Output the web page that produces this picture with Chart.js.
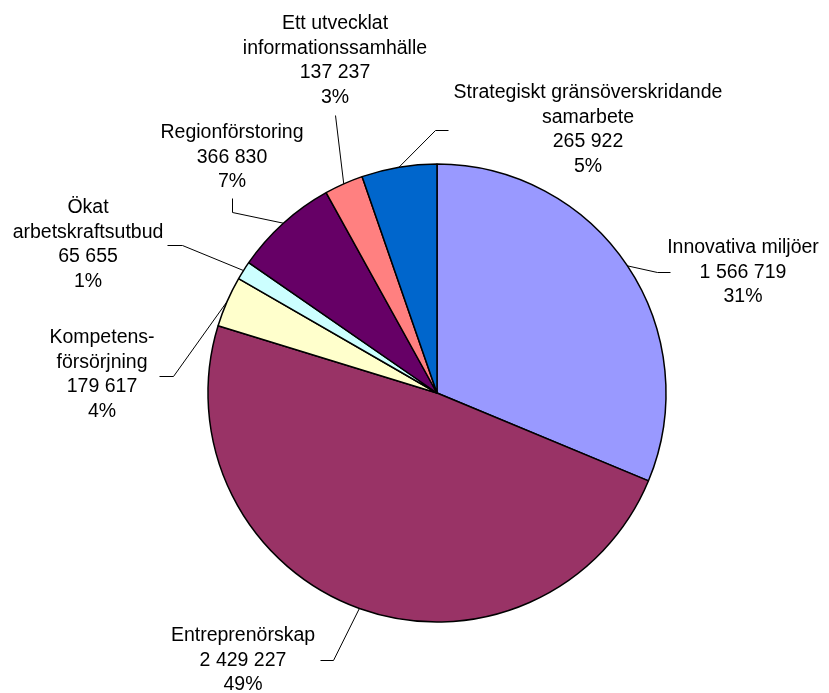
<!DOCTYPE html>
<html>
<head>
<meta charset="utf-8">
<script src="https://cdn.jsdelivr.net/npm/chart.js@4/dist/chart.umd.min.js"></script>
<style>
  html, body { margin: 0; padding: 0; background: #fff; }
  #wrap { width: 829px; height: 693px; position: relative; }
</style>
</head>
<body>
<div id="wrap"><canvas id="pie"></canvas></div>
<script>
// === Data ===
const categories = [
    "Innovativa miljöer",
    "Entreprenörskap",
    "Kompetensförsörjning",
    "Ökat arbetskraftsutbud",
    "Regionförstoring",
    "Ett utvecklat informationssamhälle",
    "Strategiskt gränsöverskridande samarbete"
];
const amounts = [1566719, 2429227, 179617, 65655, 366830, 137237, 265922];
const percentLabels = ["31%", "49%", "4%", "1%", "7%", "3%", "5%"];
// how each category name is wrapped in its label
const nameLines = [
    ["Innovativa miljöer"],
    ["Entreprenörskap"],
    ["Kompetens-", "försörjning"],
    ["Ökat", "arbetskraftsutbud"],
    ["Regionförstoring"],
    ["Ett utvecklat", "informationssamhälle"],
    ["Strategiskt gränsöverskridande", "samarbete"]
];
const sliceColors = ["#9999FF", "#993366", "#FFFFCC", "#CCFFFF", "#660066", "#FF8080", "#0066CC"];

// === Label layout (text center x, first line y, leader line points before the arc) ===
const labelLayout = [
    { x: 743, y: 248, leader: [[670, 272], [657, 272]] },
    { x: 243, y: 636, leader: [[320, 660], [333, 660]] },
    { x: 102, y: 338, leader: [[159, 376], [173, 376]] },
    { x: 88,  y: 208, leader: [[167, 245], [182, 245]] },
    { x: 232, y: 133, leader: [[232, 198], [232, 212]] },
    { x: 335, y: 24,  leader: [[335, 115]] },
    { x: 588, y: 93,  leader: [[448, 130], [435, 130]] }
];

const FONT = '19.5px "Liberation Sans", Arial, sans-serif';
const LINE_H = 24.5;

function fmtNumber(n) {
    return String(n).replace(/\B(?=(\d{3})+(?!\d))/g, " ");
}

const pieLabels = {
    id: "pieLabels",
    afterDatasetsDraw(chart) {
        const ctx = chart.ctx;
        const arcs = chart.getDatasetMeta(0).data;
        ctx.save();
        ctx.font = FONT;
        ctx.fillStyle = "#000";
        ctx.textAlign = "center";
        ctx.textBaseline = "middle";
        ctx.strokeStyle = "#000";
        ctx.lineWidth = 1;

        arcs.forEach((arc, i) => {
            const lay = labelLayout[i];
            const mid = (arc.startAngle + arc.endAngle) / 2;
            const px = arc.x + Math.cos(mid) * arc.outerRadius;
            const py = arc.y + Math.sin(mid) * arc.outerRadius;

            // leader line
            ctx.beginPath();
            lay.leader.forEach((p, k) => {
                if (k === 0) ctx.moveTo(p[0] + 0.5, p[1] + 0.5);
                else ctx.lineTo(p[0] + 0.5, p[1] + 0.5);
            });
            ctx.lineTo(px, py);
            ctx.stroke();

            // text
            const lines = nameLines[i].concat([fmtNumber(amounts[i]), percentLabels[i]]);
            lines.forEach((t, k) => {
                ctx.fillText(t, lay.x, lay.y + k * LINE_H);
            });
        });
        ctx.restore();
    }
};

new Chart(document.getElementById("pie"), {
    type: "pie",
    data: {
        labels: categories,
        datasets: [{
            data: amounts,
            backgroundColor: sliceColors,
            borderColor: "#000",
            borderWidth: 1.5,
            hoverOffset: 0
        }]
    },
    options: {
        responsive: true,
        maintainAspectRatio: false,
        animation: false,
        radius: 229,
        layout: { padding: { left: 208, right: 163, top: 164, bottom: 71 } },
        plugins: {
            legend: { display: false },
            tooltip: { enabled: false }
        }
    },
    plugins: [pieLabels]
});
</script>
</body>
</html>
